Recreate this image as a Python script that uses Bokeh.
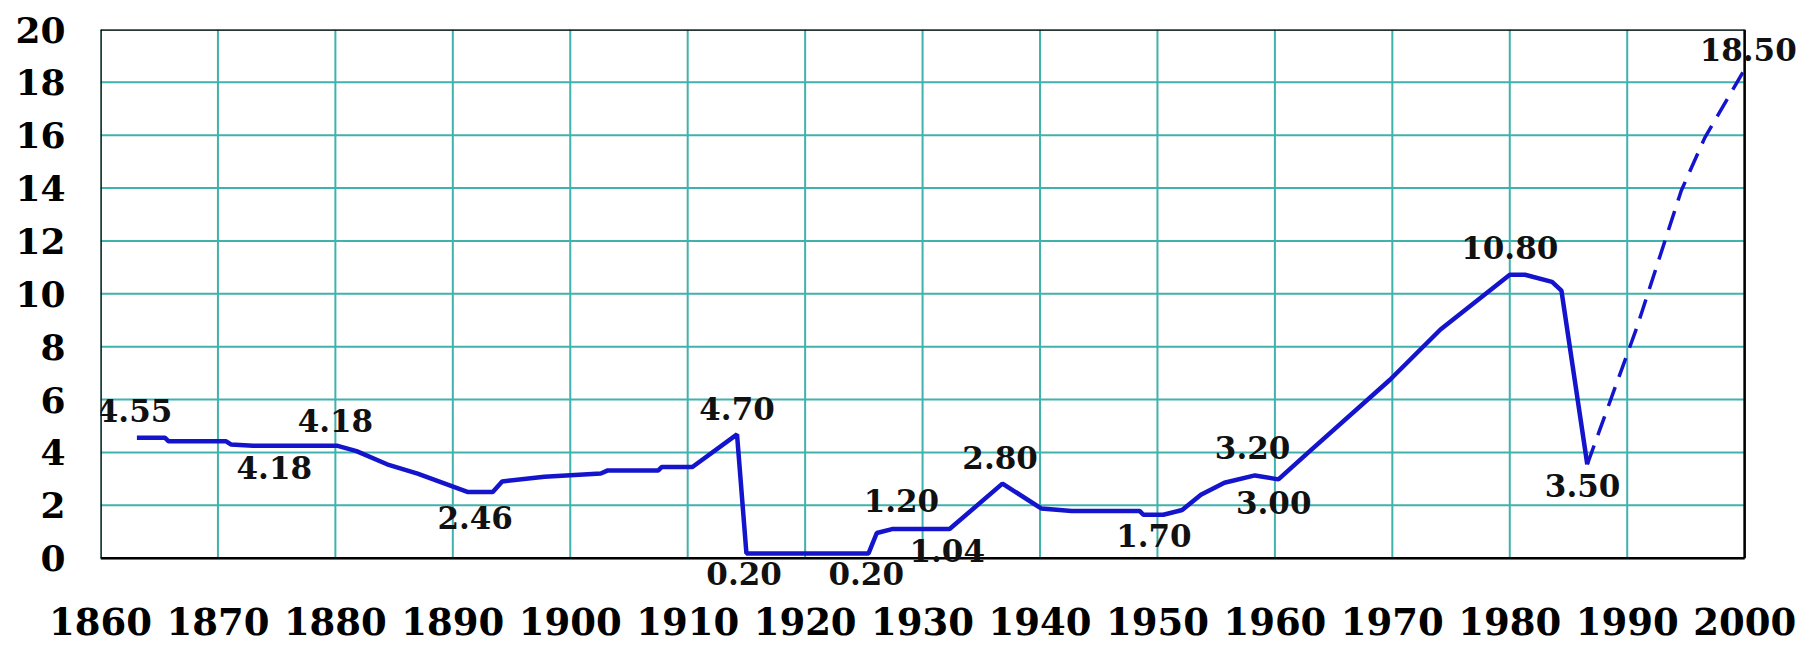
from bokeh.plotting import figure
from bokeh.models import FixedTicker, LabelSet, ColumnDataSource, Range1d
from bokeh.core.properties import value
from bokeh.embed import file_html
from bokeh.resources import INLINE

# ---- data ----
x_ticks = [1860, 1870, 1880, 1890, 1900, 1910, 1920, 1930, 1940, 1950, 1960, 1970, 1980, 1990, 2000]
x_tick_labels = ["1860", "1870", "1880", "1890", "1900", "1910", "1920", "1930",
                 "1940", "1950", "1960", "1970", "1980", "1990", "2000"]
y_ticks = [0, 2, 4, 6, 8, 10, 12, 14, 16, 18, 20]

solid_years = [1863.1, 1865.5, 1865.8, 1870.7, 1871.1, 1873.0, 1880.2, 1881.8, 1884.4, 1887.0,
               1891.3, 1893.4, 1894.2, 1897.8, 1902.6, 1903.2, 1907.5, 1907.8, 1910.4, 1914.2,
               1915.0, 1925.4, 1926.1, 1927.4, 1932.3, 1936.8, 1940.1, 1942.7, 1948.5, 1948.8,
               1950.5, 1952.1, 1953.7, 1955.7, 1958.3, 1960.3, 1962.9, 1969.8, 1974.1, 1980.0,
               1981.3, 1983.6, 1984.4, 1986.6]
solid_values = [4.55, 4.55, 4.42, 4.42, 4.30, 4.25, 4.25, 4.05, 3.55, 3.20,
                2.50, 2.50, 2.90, 3.08, 3.20, 3.32, 3.32, 3.45, 3.45, 4.68,
                0.18, 0.18, 0.95, 1.10, 1.10, 2.82, 1.88, 1.78, 1.78, 1.64,
                1.64, 1.82, 2.40, 2.85, 3.13, 2.98, 4.02, 6.75, 8.65, 10.72,
                10.72, 10.45, 10.12, 3.55]

proj_years = [1986.6, 1990.8, 1994.6, 1996.6, 2000.0]
proj_values = [3.55, 8.70, 13.90, 15.90, 18.50]

label_texts = ["4.55", "4.18", "4.18", "2.46", "4.70", "0.20", "0.20", "1.20", "1.04",
               "2.80", "1.70", "3.20", "3.00", "10.80", "3.50", "18.50"]
label_years = [1862.9, 1880.0, 1874.8, 1891.9, 1914.2, 1914.8, 1925.2, 1928.2, 1932.1,
               1936.6, 1949.7, 1958.1, 1959.9, 1980.0, 1986.2, 2000.3]
label_values = [5.59, 5.21, 3.44, 1.55, 5.65, -0.59, -0.59, 2.18, 0.29,
                3.82, 0.86, 4.20, 2.12, 11.77, 2.73, 19.24]

x_min, x_max = x_ticks[0], x_ticks[-1]
y_min, y_max = y_ticks[0], y_ticks[-1]

# ---- figure ----
p = figure(width=1800, height=649, x_range=Range1d(1860, 2004.5), y_range=Range1d(-1.3, 20),
           output_backend="svg", toolbar_location=None,
           min_border_left=100, min_border_right=3, min_border_top=29, min_border_bottom=57)
p.background_fill_color = "white"
p.border_fill_color = "white"
p.outline_line_color = None
p.xgrid.visible = False
p.ygrid.visible = False

p.xaxis.ticker = FixedTicker(ticks=x_ticks)
p.xaxis.major_label_overrides = {t: l for t, l in zip(x_ticks, x_tick_labels)}
p.yaxis.ticker = FixedTicker(ticks=y_ticks)

for ax in (p.xaxis, p.yaxis):
    ax.axis_line_color = None
    ax.major_tick_line_color = None
    ax.minor_tick_line_color = None
    ax.major_tick_out = 0
    ax.major_tick_in = 0
    ax.major_label_text_font = "DejaVu Serif"
    ax.major_label_text_font_style = "bold"
    ax.major_label_text_color = "black"

p.xaxis.major_label_text_font_size = "37px"
p.xaxis.major_label_standoff = 15
p.yaxis.major_label_text_font_size = "36px"
p.yaxis.major_label_standoff = 35

# grid lines limited to the data box
grid_color = "#40b2ae"
p.segment(x0=x_ticks, y0=[y_min] * len(x_ticks), x1=x_ticks, y1=[y_max] * len(x_ticks),
          line_color=grid_color, line_width=2)
p.segment(x0=[x_min] * len(y_ticks), y0=y_ticks, x1=[x_max] * len(y_ticks), y1=y_ticks,
          line_color=grid_color, line_width=2)

# black box around the data area
p.segment(x0=[x_min, x_min, x_min, x_max], y0=[y_min, y_max, y_min, y_min],
          x1=[x_max, x_max, x_min, x_max], y1=[y_min, y_max, y_max, y_max],
          line_color="black", line_width=2.5)

p.line(solid_years, solid_values, line_color="#1414cc", line_width=4.5)
p.line(proj_years, proj_values, line_color="#1414cc", line_width=3.5, line_dash="20 11")

src = ColumnDataSource(dict(x=label_years, y=label_values, t=label_texts))
labels = LabelSet(x="x", y="y", text="t", source=src, text_align="center",
                  text_baseline="middle", text_font=value("DejaVu Serif"),
                  text_font_size="31px", text_font_style="bold", text_color="#111111")
p.add_layout(labels)

open("out.html", "w").write(file_html(p, INLINE))
